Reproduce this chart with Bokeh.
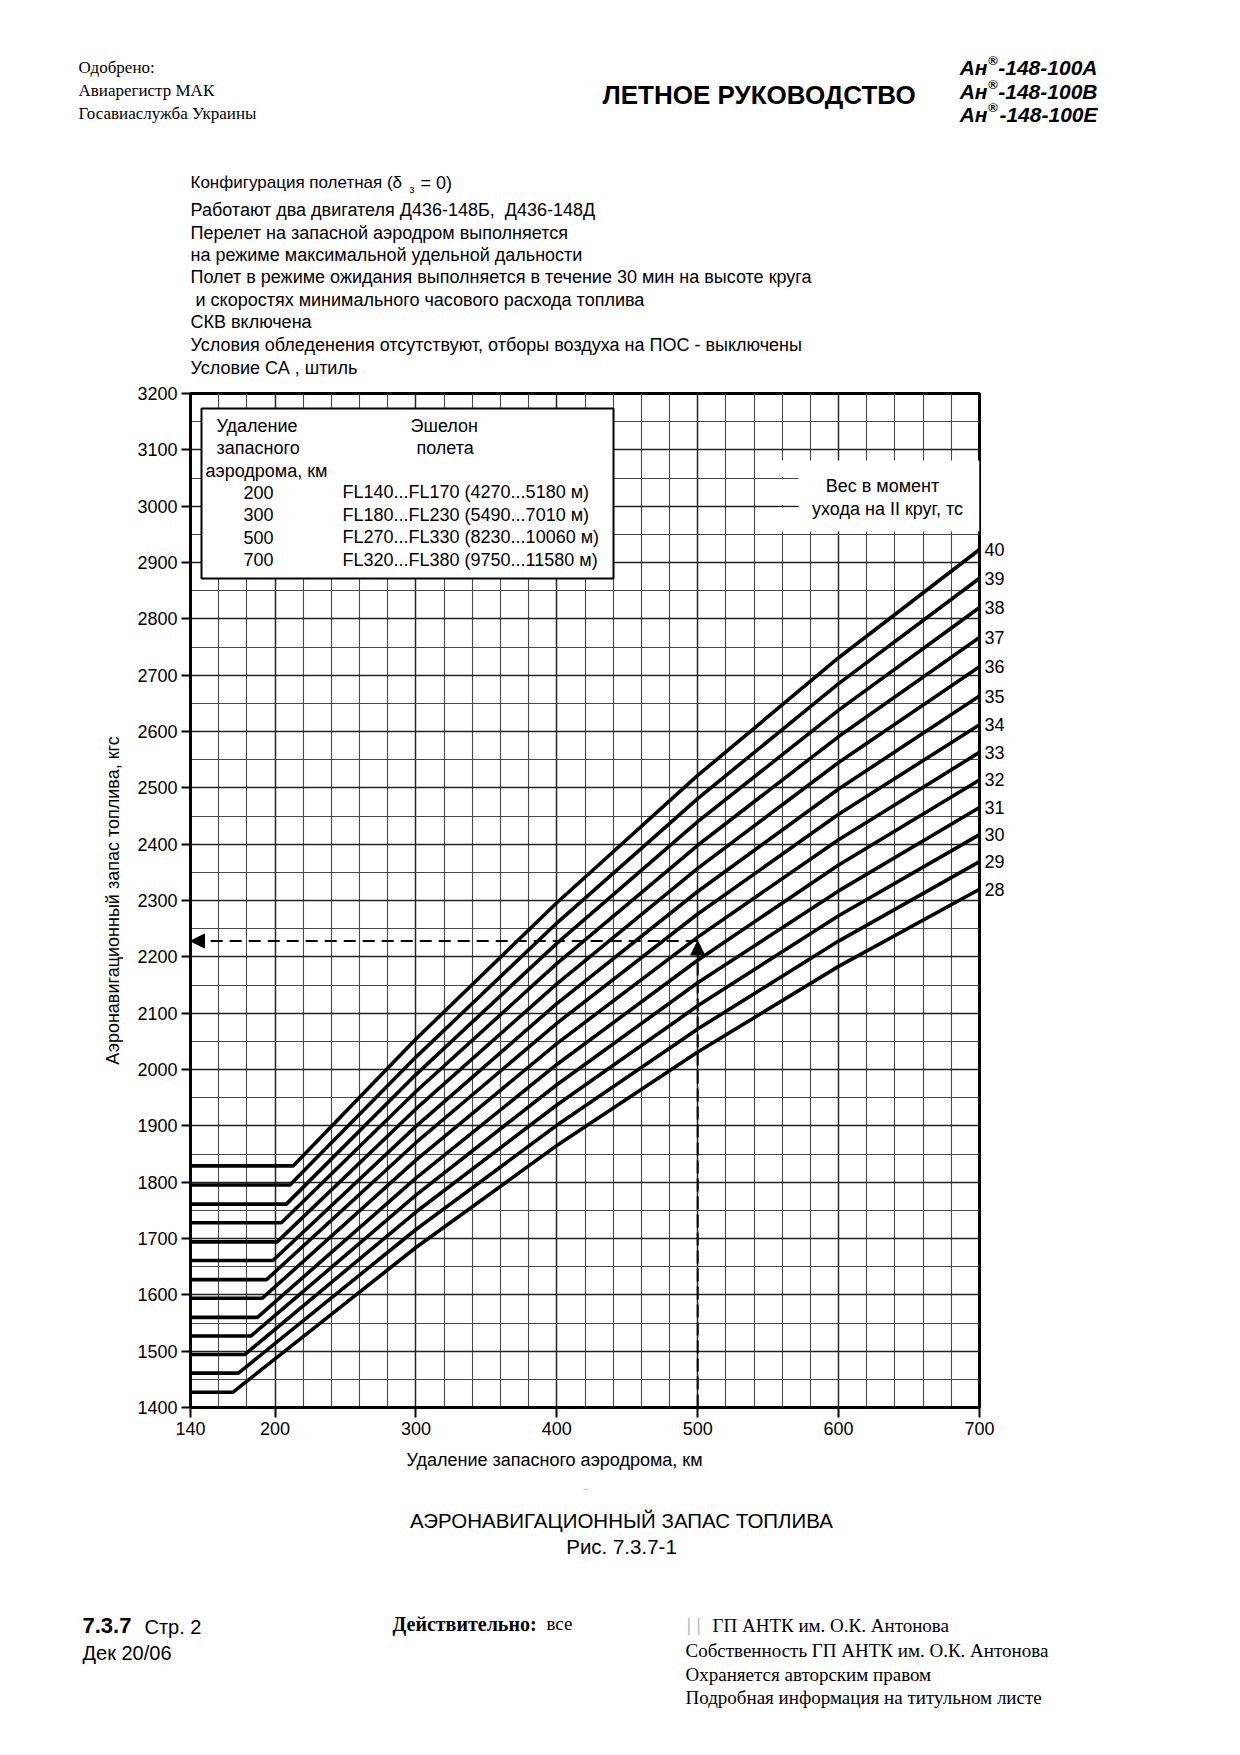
from bokeh.plotting import figure
from bokeh.layouts import column
from bokeh.models import (Range1d, FixedTicker, Label, BoxAnnotation,
                          Arrow, NormalHead, ColumnDataSource, LinearAxis)
from bokeh.embed import file_html
from bokeh.resources import INLINE

# ---------------- data ----------------
weights = [40, 39, 38, 37, 36, 35, 34, 33, 32, 31, 30, 29, 28]          # тс
flat_fuel = [1829, 1795, 1761, 1728, 1694, 1661, 1627, 1594, 1560, 1527, 1494, 1461, 1427]
flat_end_km = [213, 210.5, 208, 204.5, 201.5, 198.5, 194, 191, 187.5, 183, 178.5, 174, 170]
dist_km = [300, 400, 500, 600, 700]
fuel_300 = [2054, 2022, 1991, 1961, 1930, 1899, 1870, 1839, 1807, 1777, 1747, 1716, 1684]
fuel_400 = [2296, 2260, 2224, 2188, 2152, 2117, 2082, 2046, 2009, 1973, 1937, 1901, 1865]
fuel_500 = [2522, 2481, 2440, 2398, 2357, 2316, 2276, 2235, 2194, 2154, 2113, 2072, 2031]
fuel_600 = [2731, 2685, 2638, 2591, 2545, 2498, 2453, 2408, 2363, 2317, 2273, 2228, 2183]
fuel_700 = [2923, 2872, 2820, 2767, 2715, 2663, 2612, 2563, 2514, 2465, 2417, 2369, 2320]

example_km = 500
example_fuel = 2228

x_ticks = [140, 200, 300, 400, 500, 600, 700]
x_minor = list(range(140, 701, 20))
y_ticks = list(range(1400, 3201, 100))
y_minor = list(range(1400, 3201, 50))

X_MIN, X_MAX = 140, 700
Y_MIN, Y_MAX = 1400, 3200

legend_dist = ["200", "300", "500", "700"]
legend_fl = ["FL140...FL170 (4270...5180 м)", "FL180...FL230 (5490...7010 м)",
             "FL270...FL330 (8230...10060 м)", "FL320...FL380 (9750...11580 м)"]

# ---------------- page geometry (page pixels) ----------------
W = 1232
A_TOP, A_BOT = 0, 380          # header + description
B_TOP, B_BOT = 380, 1445       # chart
C_TOP, C_BOT = 1445, 1740      # axis title, caption, footer
FR_L, FR_T, FR_W, FR_B = 190, 393, 789, 1407

SANS = "Liberation Sans"
SERIF = "Liberation Serif"
FS = 18
NB = "\u00a0"


def text_fig(top, bot):
    f = figure(width=W, height=bot - top, x_range=Range1d(0, W), y_range=Range1d(bot, top),
               x_axis_type=None, y_axis_type=None, output_backend="svg",
               toolbar_location=None, title=None, min_border=0, frame_align=False)
    f.outline_line_color = None
    f.background_fill_color = "white"
    f.border_fill_color = "white"
    return f


def put(f, txt, px, py, size=FS, font=SANS, style="normal", align="left",
        baseline="middle", color="black", angle=0.0):
    f.add_layout(Label(x=px, y=py, text=txt, text_font=font, text_font_size=f"{size}px",
                       text_font_style=style, text_align=align, text_baseline=baseline,
                       text_color=color, angle=angle))


# ---------------- header + description ----------------
fa = text_fig(A_TOP, A_BOT)
put(fa, "Одобрено:", 78, 67, size=17, font=SERIF)
put(fa, "Авиарегистр МАК", 78, 90, size=17, font=SERIF)
put(fa, "Госавиаслужба Украины", 78, 113, size=17, font=SERIF)
put(fa, "ЛЕТНОЕ РУКОВОДСТВО", 602, 94, size=26, style="bold")
for suffix, yy in (("-148-100А", 67), ("-148-100В", 90.5), ("-148-100Е", 114)):
    put(fa, suffix, 1097, yy, size=21, style="bold italic", align="right")
    put(fa, "®", 997, yy - 7, size=13, style="bold italic", align="right")
    put(fa, "Ан", 987, yy, size=21, style="bold italic", align="right")

put(fa, "Конфигурация полетная (δ", 190, 182, size=17)
put(fa, "з", 409, 188, size=11)
put(fa, "= 0)", 420, 182)
desc = ["Работают два двигателя Д436-148Б," + NB + " Д436-148Д",
        "Перелет на запасной аэродром выполняется",
        "на режиме максимальной удельной дальности",
        "Полет в режиме ожидания выполняется в течение 30 мин на высоте круга",
        NB + "и скоростях минимального часового расхода топлива",
        "СКВ включена",
        "Условия обледенения отсутствуют, отборы воздуха на ПОС - выключены",
        "Условие СА , штиль"]
desc_y = [209, 232, 254, 276.5, 299, 321.5, 344.5, 367]
for t, yy in zip(desc, desc_y):
    put(fa, t, 190, yy)

# ---------------- chart ----------------
p = figure(width=W, height=B_BOT - B_TOP, x_range=Range1d(X_MIN, X_MAX),
           y_range=Range1d(Y_MIN, Y_MAX), output_backend="svg", toolbar_location=None,
           title=None, min_border_left=FR_L, min_border_right=W - FR_L - FR_W,
           min_border_top=FR_T - B_TOP, min_border_bottom=B_BOT - FR_B, frame_align=False)
p.background_fill_color = "white"
p.border_fill_color = "white"
p.outline_line_color = "black"
p.outline_line_width = 3

p.xaxis.ticker = FixedTicker(ticks=x_ticks, minor_ticks=x_minor)
p.yaxis.ticker = FixedTicker(ticks=y_ticks, minor_ticks=y_minor)
for ax in (p.xaxis[0], p.yaxis[0]):
    ax.axis_line_width = 3
    ax.axis_line_color = "black"
    ax.major_tick_line_width = 2
    ax.major_tick_line_color = "black"
    ax.major_tick_out = 10
    ax.major_tick_in = 0
    ax.minor_tick_out = 0
    ax.minor_tick_in = 0
    ax.major_label_text_font = SANS
    ax.major_label_text_font_size = f"{FS}px"
    ax.major_label_text_color = "black"
    ax.major_label_standoff = 4
p.yaxis[0].major_tick_out = 9
p.yaxis[0].axis_label = "Аэронавигационный запас топлива, кгс"
p.yaxis[0].axis_label_text_font = SANS
p.yaxis[0].axis_label_text_font_size = f"{FS}px"
p.yaxis[0].axis_label_text_font_style = "normal"
p.yaxis[0].axis_label_text_color = "black"
p.yaxis[0].axis_label_standoff = 11

for g in (p.xgrid[0], p.ygrid[0]):
    g.grid_line_color = "#222222"
    g.grid_line_width = 1.4
    g.minor_grid_line_color = "#484848"
    g.minor_grid_line_width = 1.1

# weight labels at the curve ends, as a right-hand axis
right_ax = LinearAxis(ticker=FixedTicker(ticks=fuel_700, minor_ticks=[]),
                      major_label_overrides={v: str(w) for v, w in zip(fuel_700, weights)})
right_ax.axis_line_color = None
right_ax.major_tick_line_color = None
right_ax.major_tick_out = 0
right_ax.major_tick_in = 0
right_ax.minor_tick_out = 0
right_ax.minor_tick_in = 0
right_ax.major_label_standoff = 5
right_ax.major_label_text_font = SANS
right_ax.major_label_text_font_size = f"{FS}px"
right_ax.major_label_text_color = "black"
p.add_layout(right_ax, "right")

xs, ys = [], []
for i in range(len(weights)):
    xs.append([X_MIN, flat_end_km[i]] + dist_km)
    ys.append([flat_fuel[i], flat_fuel[i], fuel_300[i], fuel_400[i], fuel_500[i],
               fuel_600[i], fuel_700[i]])
src = ColumnDataSource(dict(xs=xs, ys=ys))
p.multi_line("xs", "ys", source=src, line_color="black", line_width=3.6)

# example arrows
p.add_layout(Arrow(end=NormalHead(size=14, fill_color="black", line_color="black", line_width=1),
                   x_start=example_km, y_start=Y_MIN, x_end=example_km, y_end=example_fuel,
                   line_dash="13 5", line_width=2, line_color="black"))
p.add_layout(Arrow(end=NormalHead(size=14, fill_color="black", line_color="black", line_width=1),
                   x_start=example_km, y_start=example_fuel, x_end=X_MIN, y_end=example_fuel,
                   line_dash="12 7", line_width=2, line_color="black"))


def px_x(px):
    return X_MIN + (px - FR_L) * (X_MAX - X_MIN) / FR_W


def px_y(py):
    return Y_MAX - (py - FR_T) * (Y_MAX - Y_MIN) / (FR_B - FR_T)


p.add_layout(BoxAnnotation(left=px_x(201), right=px_x(613), top=px_y(408), bottom=px_y(578),
                           fill_color="white", fill_alpha=1, line_color="black",
                           line_alpha=1, line_width=2))
# white area behind the weight caption (horizontal grid lines 3050/3000 run a little into it)
p.add_layout(BoxAnnotation(left=px_x(798), right=X_MAX, top=px_y(460), bottom=px_y(531),
                           fill_color="white", fill_alpha=1, line_alpha=0))
for top_px, bot_px in ((460, 476.3), (478.7, 504.5), (506.9, 531)):
    p.add_layout(BoxAnnotation(left=px_x(777), right=px_x(798.5), top=px_y(top_px),
                               bottom=px_y(bot_px), fill_color="white", fill_alpha=1,
                               line_alpha=0))


def put_chart(txt, px, py, align="left"):
    p.add_layout(Label(x=px_x(px), y=px_y(py), text=txt, text_font=SANS,
                       text_font_size=f"{FS}px", text_align=align, text_baseline="middle",
                       text_color="black"))


put_chart("Удаление", 216, 425)
put_chart("запасного", 216, 447)
put_chart("аэродрома, км", 205, 470)
put_chart("Эшелон", 410, 425)
put_chart("полета", 416, 447)
for k, (d, fl) in enumerate(zip(legend_dist, legend_fl)):
    yy = 491.5 + k * 22.5
    put_chart(d, 243, yy)
    put_chart(fl, 342, yy)
put_chart("Вес в момент", 882, 485, align="center")
put_chart("ухода на II круг, тс", 887, 508, align="center")

# ---------------- caption + footer ----------------
fc = text_fig(C_TOP, C_BOT)
put(fc, "Удаление запасного аэродрома, км", 554, 1459, align="center")
put(fc, "..", 585, 1486, size=9, color="#777777", align="center")
put(fc, "АЭРОНАВИГАЦИОННЫЙ ЗАПАС ТОПЛИВА", 621, 1520, size=20.5, align="center")
put(fc, "Рис. 7.3.7-1", 621, 1546, size=20.5, align="center")
put(fc, "7.3.7", 82, 1625, size=22, style="bold")
put(fc, "Стр. 2", 144, 1626, size=20)
put(fc, "Дек 20/06", 82, 1652, size=20)
put(fc, "Действительно:", 392, 1623, size=20, font=SERIF, style="bold")
put(fc, "все", 546, 1623, size=19, font=SERIF)
put(fc, "| |", 686, 1624, color="#bbbbbb")
put(fc, "ГП АНТК им. О.К. Антонова", 712, 1625, size=19, font=SERIF)
put(fc, "Собственность ГП АНТК им. О.К. Антонова", 685, 1650, size=19, font=SERIF)
put(fc, "Охраняется авторским правом", 685, 1674, size=19, font=SERIF)
put(fc, "Подробная информация на титульном листе", 685, 1697, size=19, font=SERIF)

page = column(fa, p, fc, spacing=0)
open("out.html", "w").write(file_html(page, INLINE))
